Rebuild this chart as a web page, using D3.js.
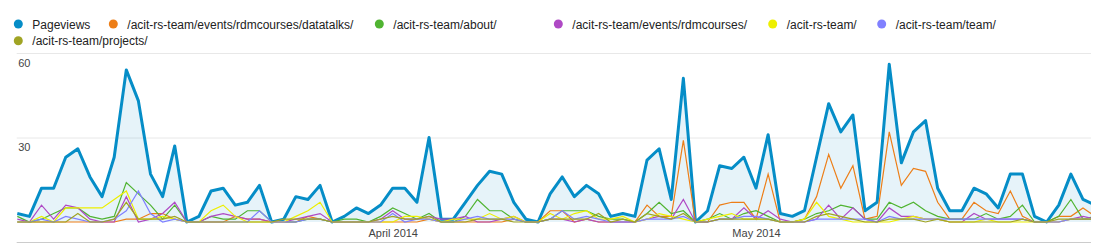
<!DOCTYPE html>
<html>
<head>
<meta charset="utf-8">
<script src="https://cdn.jsdelivr.net/npm/d3@7"></script>
<style>
  body { margin: 0; background: #fff; }
  svg { display: block; font-family: Arial, "Liberation Sans", sans-serif; }
</style>
</head>
<body>
<div id="plot"></div>
<script>
// daily values, 1 March 2014 .. 29 May 2014
const startDay = new Date(Date.UTC(2014, 2, 1));
const endDay = new Date(Date.UTC(2014, 4, 30));
const days = d3.utcDay.range(startDay, endDay);

const seriesNames = ["Pageviews", "/acit-rs-team/events/rdmcourses/datatalks/", "/acit-rs-team/about/",
  "/acit-rs-team/events/rdmcourses/", "/acit-rs-team/", "/acit-rs-team/team/", "/acit-rs-team/projects/"];
const colors = ["#058dc7", "#ed7e17", "#50b432", "#af49c5", "#edef00", "#8080ff", "#a0a424"];

const pageviews = [3, 2, 12, 12, 23, 26, 16, 9, 23, 54, 43, 17, 9, 27, 0,
  2, 11, 12, 6, 7, 13, 0, 1, 9, 8, 13, 0, 2, 5, 3,
  6, 12, 12, 7, 30, 1, 1, 7, 13, 18, 17, 7, 1, 0,
  10, 16, 9, 13, 10, 2, 3, 2, 22, 26, 8, 51, 0, 4, 20, 19,
  23, 12, 31, 3, 2, 4, 23, 42, 32, 38, 4, 7, 56, 21, 32,
  36, 12, 4, 4, 12, 10, 5, 17, 17, 2, 0, 6, 17, 8, 6];
const datatalks = [0, 0, 0, 0, 0, 0, 0, 0, 0, 1, 1, 3, 3, 1, 0,
  0, 0, 0, 2, 1, 1, 0, 0, 0, 2, 1, 0, 0, 0, 0,
  0, 0, 0, 0, 1, 0, 0, 0, 0, 0, 0, 1, 0, 0,
  4, 4, 0, 1, 0, 0, 0, 0, 6, 2, 2, 29, 0, 0, 6, 7,
  7, 1, 17, 0, 0, 1, 9, 24, 12, 20, 1, 2, 32, 13, 19,
  18, 7, 1, 1, 7, 4, 3, 11, 2, 0, 0, 2, 2, 5, 2];
const about = [2, 0, 1, 3, 5, 5, 2, 1, 2, 14, 10, 6, 1, 6, 0,
  0, 2, 1, 1, 4, 4, 0, 0, 0, 1, 1, 0, 1, 1, 0,
  2, 5, 3, 1, 3, 0, 0, 2, 8, 4, 4, 1, 0, 0,
  1, 4, 4, 4, 2, 1, 1, 0, 3, 7, 3, 4, 0, 1, 3, 1,
  3, 4, 2, 0, 0, 1, 3, 4, 6, 5, 1, 1, 7, 5, 7,
  4, 2, 1, 1, 1, 3, 1, 2, 6, 0, 0, 2, 8, 1, 2];
const rdmcourses = [1, 0, 6, 1, 6, 5, 1, 0, 0, 9, 0, 1, 3, 7, 0,
  0, 2, 3, 2, 1, 1, 0, 0, 1, 2, 3, 0, 0, 0, 0,
  1, 4, 1, 1, 2, 1, 1, 2, 0, 0, 1, 2, 0, 0,
  1, 1, 0, 1, 0, 0, 0, 0, 1, 2, 1, 8, 0, 0, 1, 1,
  5, 1, 4, 1, 0, 0, 1, 6, 1, 5, 1, 0, 5, 2, 2,
  1, 1, 0, 0, 3, 1, 1, 1, 1, 0, 0, 0, 1, 2, 1];
const home = [0, 0, 2, 0, 5, 5, 5, 5, 8, 11, 1, 1, 2, 1, 0,
  0, 4, 6, 2, 0, 0, 0, 0, 2, 4, 7, 0, 0, 0, 0,
  0, 0, 2, 2, 1, 0, 1, 1, 1, 3, 1, 2, 0, 0,
  3, 1, 3, 4, 1, 1, 2, 0, 1, 3, 2, 1, 0, 1, 2, 3,
  1, 1, 1, 0, 0, 1, 7, 2, 1, 0, 0, 0, 0, 1, 2,
  1, 1, 0, 0, 0, 1, 0, 0, 0, 0, 0, 0, 1, 1, 1];
const team = [0, 0, 1, 0, 2, 1, 0, 0, 1, 4, 11, 3, 0, 1, 0,
  0, 0, 0, 0, 0, 4, 0, 0, 0, 1, 1, 0, 0, 0, 0,
  0, 3, 0, 1, 1, 0, 0, 1, 2, 1, 1, 1, 0, 0,
  1, 4, 1, 2, 1, 0, 0, 0, 1, 1, 1, 2, 0, 0, 1, 1,
  2, 2, 1, 0, 0, 0, 1, 1, 1, 1, 1, 0, 2, 1, 1,
  1, 1, 1, 1, 1, 1, 1, 1, 1, 0, 0, 0, 1, 1, 1];
const projects = [0, 0, 0, 0, 0, 3, 0, 0, 1, 7, 1, 1, 1, 2, 0,
  0, 0, 0, 0, 0, 0, 0, 1, 1, 1, 1, 0, 0, 0, 0,
  1, 2, 1, 1, 2, 0, 0, 0, 1, 1, 1, 0, 0, 0,
  1, 1, 1, 1, 3, 0, 1, 0, 3, 2, 1, 3, 0, 0, 1, 1,
  1, 1, 1, 0, 0, 0, 2, 3, 2, 1, 0, 0, 1, 1, 1,
  0, 1, 0, 0, 0, 0, 0, 0, 1, 0, 0, 1, 1, 1, 1];

const yTicks = [30, 60];
const monthTicks = [new Date(Date.UTC(2014, 3, 1)), new Date(Date.UTC(2014, 4, 1))];

const width = 1107;
const height = 244;
const plotLeft = 16.7, plotRight = 1091;

// legend layout (item positions as in the original two-row legend)
const legendX = [18.3, 113.3, 379.3, 558.3, 772.7, 881.7, 18.3];
const legendRow = [0, 0, 0, 0, 0, 0, 1];

const svg = d3.select("#plot").append("svg")
  .attr("width", width)
  .attr("height", height);

const x = d3.scaleUtc()
  .domain([days[0], days[days.length - 1]])
  .range([17.3, 1095.1]);
const y = d3.scaleLinear()
  .domain([0, 60])
  .range([222, 53]);

// gridlines + y labels
const yAxis = svg.append("g")
  .attr("transform", `translate(${plotLeft},0)`)
  .call(d3.axisRight(y).tickValues(yTicks).tickSize(plotRight - plotLeft).tickFormat(d3.format("d")));
yAxis.select(".domain").remove();
yAxis.selectAll("line").attr("stroke", "#e8e8e8");
yAxis.selectAll("text")
  .attr("x", 1.5)
  .attr("dy", 13)
  .attr("text-anchor", "start")
  .style("font-size", "11px")
  .attr("fill", "#444");

// bottom border
svg.append("line")
  .attr("x1", plotLeft).attr("x2", plotRight)
  .attr("y1", 242.5).attr("y2", 242.5)
  .attr("stroke", "#ccc");

svg.append("clipPath").attr("id", "clip")
  .append("rect")
  .attr("x", plotLeft).attr("y", 40)
  .attr("width", plotRight - plotLeft).attr("height", 190);

const g = svg.append("g").attr("clip-path", "url(#clip)");

const area = d3.area()
  .x((d, i) => x(days[i]))
  .y0(y(0))
  .y1(d => y(d));
const line = d3.line()
  .x((d, i) => x(days[i]))
  .y(d => y(d));

g.append("path")
  .datum(pageviews)
  .attr("d", area)
  .attr("fill", "#058dc7")
  .attr("fill-opacity", 0.1);

g.append("path")
  .datum(pageviews)
  .attr("d", line)
  .attr("fill", "none")
  .attr("stroke", colors[0])
  .attr("stroke-width", 3)
  .attr("stroke-linejoin", "round");

const pages = [datatalks, about, rdmcourses, home, team, projects];
pages.forEach((s, k) => {
  g.append("path")
    .datum(s)
    .attr("d", line)
    .attr("fill", "none")
    .attr("stroke", colors[k + 1])
    .attr("stroke-width", 1.2);
});

// month labels
const xAxis = svg.append("g")
  .attr("transform", `translate(0,${y(0)})`)
  .call(d3.axisBottom(x).tickValues(monthTicks).tickSize(0).tickPadding(7)
    .tickFormat(d3.utcFormat("%B %Y")));
xAxis.select(".domain").remove();
xAxis.selectAll("text")
  .style("font-size", "11px")
  .attr("fill", "#444");

// legend
const legend = svg.selectAll(".legend")
  .data(seriesNames)
  .enter().append("g")
  .attr("class", "legend")
  .attr("transform", (d, i) => `translate(${legendX[i]}, ${24 + legendRow[i] * 16.7})`);

legend.append("circle")
  .attr("r", 4.5)
  .attr("fill", (d, i) => colors[i]);

legend.append("text")
  .attr("x", 14)
  .attr("y", 4.5)
  .style("font-size", "12px")
  .attr("fill", "#222")
  .text(d => d);
</script>
</body>
</html>
